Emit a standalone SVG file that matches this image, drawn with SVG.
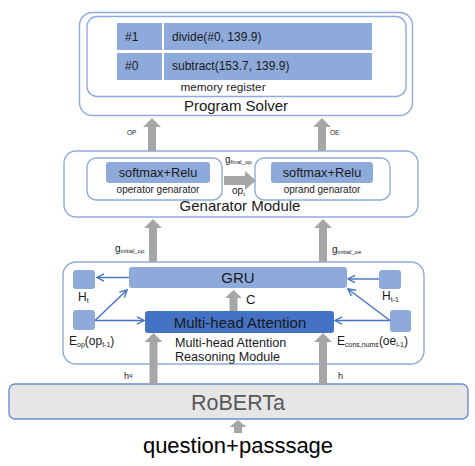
<svg xmlns="http://www.w3.org/2000/svg" width="475" height="466" viewBox="0 0 475 466">
<defs>
<style>
text{font-family:"Liberation Sans",Arial,sans-serif;fill:#1a1a1a}
.frame{fill:#fff;stroke:#8faadc;stroke-width:1.4}
.cell{fill:#8eaadb}
.btn{fill:#8eaadb}
.sq{fill:#8eaadb}
.gray{fill:#a6a6a6}
.blue{stroke:#4472c4;stroke-width:1.4;fill:none}
.sub{font-size:7px}
</style>
<marker id="open" markerWidth="9" markerHeight="9" refX="8" refY="4.5" orient="auto" markerUnits="userSpaceOnUse">
<path d="M1,0.8 L8,4.5 L1,8.2" fill="none" stroke="#4472c4" stroke-width="1.4"/>
</marker>
</defs>
<rect width="475" height="466" fill="#fff"/>

<g id="program-solver">
<rect class="frame" x="79.5" y="12.5" width="333" height="103" rx="13"/>
<rect class="frame" x="87" y="16.5" width="319" height="80" rx="10"/>
<rect class="cell" x="117" y="23" width="45" height="27"/>
<rect class="cell" x="164" y="23" width="208" height="27"/>
<rect class="cell" x="117" y="53" width="45" height="27"/>
<rect class="cell" x="164" y="53" width="208" height="27"/>
<text x="125" y="40.5" font-size="12">#1</text>
<text x="172" y="40.5" font-size="12">divide(#0, 139.9)</text>
<text x="125" y="70" font-size="12">#0</text>
<text x="172" y="70" font-size="12">subtract(153.7, 139.9)</text>
<text x="223" y="91" font-size="11.8" text-anchor="middle">memory register</text>
<text x="236" y="111" font-size="15" text-anchor="middle">Program Solver</text>
</g>

<g id="generator-module">
<rect class="frame" x="64" y="151" width="354" height="66" rx="12"/>
<text x="240" y="211" font-size="15" text-anchor="middle">Genarator Module</text>
</g>

<g id="operator-generator">
<rect class="frame" x="87" y="158" width="135" height="42" rx="9"/>
<rect class="btn" x="106" y="162" width="104" height="21" rx="3"/>
<text x="158" y="177" font-size="12.8" text-anchor="middle">softmax+Relu</text>
<text x="158" y="193" font-size="10" text-anchor="middle">operator genarator</text>
</g>

<g id="oprand-generator">
<rect class="frame" x="255" y="158" width="135" height="42" rx="9"/>
<rect class="btn" x="271" y="162" width="102" height="21" rx="3"/>
<text x="322" y="177" font-size="12.8" text-anchor="middle">softmax+Relu</text>
<text x="322" y="193" font-size="10" text-anchor="middle">oprand genarator</text>
</g>

<g id="reasoning-module">
<rect class="frame" x="63" y="262" width="361" height="102" rx="13"/>
<text x="175" y="347" font-size="12.6">Multi-head Attention</text>
<text x="175" y="361" font-size="12.6">Reasoning Module</text>
</g>

<g id="gru">
<rect class="btn" x="129" y="267" width="218" height="21" rx="3"/>
<text x="238" y="283" font-size="15" text-anchor="middle">GRU</text>
</g>

<g id="multi-head-attention">
<rect x="145" y="311" width="189" height="22" rx="3" fill="#4472c4"/>
<text x="240" y="327.5" font-size="15" text-anchor="middle">Multi-head Attention</text>
</g>

<g id="h-t">
<rect class="sq" x="73" y="270" width="22" height="19" rx="3"/>
<text x="78" y="301" font-size="12">H<tspan class="sub" dy="2">t</tspan></text>
</g>

<g id="e-op">
<rect class="sq" x="73" y="310" width="22" height="20" rx="3"/>
<text x="69" y="345" font-size="12">E<tspan class="sub" dy="2">op</tspan><tspan dy="-2">(op</tspan><tspan class="sub" dy="2">t-1</tspan><tspan dy="-2">)</tspan></text>
</g>

<g id="h-t-1">
<rect class="sq" x="379" y="270" width="22" height="19" rx="3"/>
<text x="382" y="300" font-size="12">H<tspan class="sub" dy="2">t-1</tspan></text>
</g>

<g id="e-cons-nums">
<rect class="sq" x="390" y="310" width="21" height="22" rx="3"/>
<text x="337" y="345" font-size="12">E<tspan class="sub" dy="2">cons,nums</tspan><tspan dy="-2">(oe</tspan><tspan class="sub" dy="2">i-1</tspan><tspan dy="-2">)</tspan></text>
</g>

<g id="roberta">
<rect x="9" y="384" width="459" height="35" rx="6" fill="#e7e6e6" stroke="#6f8fd0" stroke-width="1.4"/>
<text x="238" y="410" font-size="21.5" text-anchor="middle" style="fill:#595959">RoBERTa</text>
</g>

<g id="input">
<text x="238" y="453" font-size="22" text-anchor="middle" style="fill:#000">question+passsage</text>
</g>

<g id="connectors">
<polygon class="gray" points="152,118 161,127 156,127 156,151 148,151 148,127 143,127"/>
<polygon class="gray" points="322,118 331,127 326,127 326,151 318,151 318,127 313,127"/>
<polygon class="gray" points="153,219 162,228 157,228 157,262 149,262 149,228 144,228"/>
<polygon class="gray" points="323,219 332,228 327,228 327,262 319,262 319,228 314,228"/>
<polygon class="gray" points="224,176 245,176 245,171 256,180.5 245,190 245,185 224,185"/>
<polygon class="gray" points="233.5,290 242,298 237.5,298 237.5,311 229.5,311 229.5,298 225,298"/>
<polygon class="gray" points="153.5,333 162.5,342 157.5,342 157.5,384 149.5,384 149.5,342 144.5,342"/>
<polygon class="gray" points="323,333 332,342 327,342 327,384 319,384 319,342 314,342"/>
<polygon class="gray" points="238,420 246.5,427 242,427 242,433 234,433 234,427 229.5,427"/>
<line class="blue" x1="129" y1="277.5" x2="97" y2="277.5" marker-end="url(#open)"/>
<line class="blue" x1="95" y1="320.5" x2="127" y2="290" marker-end="url(#open)"/>
<line class="blue" x1="95" y1="320.5" x2="144" y2="320.5" marker-end="url(#open)"/>
<line class="blue" x1="379" y1="279" x2="348" y2="279" marker-end="url(#open)"/>
<line class="blue" x1="390" y1="320.5" x2="348" y2="289" marker-end="url(#open)"/>
<line class="blue" x1="390" y1="320.5" x2="335" y2="320.5" marker-end="url(#open)"/>
</g>

<g id="labels">
<text x="127" y="135" font-size="6.5">OP</text>
<text x="330" y="135" font-size="6.5">OE</text>
<text x="225" y="163" font-size="10">g<tspan font-size="6" dy="1">final_op</tspan></text>
<text x="232" y="194" font-size="10">op<tspan font-size="6" dy="2">t</tspan></text>
<text x="115" y="252" font-size="10">g<tspan font-size="6" dy="1">initial_op</tspan></text>
<text x="332" y="253" font-size="10">g<tspan font-size="6" dy="1">initial_oe</tspan></text>
<text x="246" y="304" font-size="13">C</text>
<text x="124" y="379" font-size="9">h<tspan font-size="6" dy="-2">q</tspan></text>
<text x="338" y="379" font-size="9">h</text>
</g>
</svg>
